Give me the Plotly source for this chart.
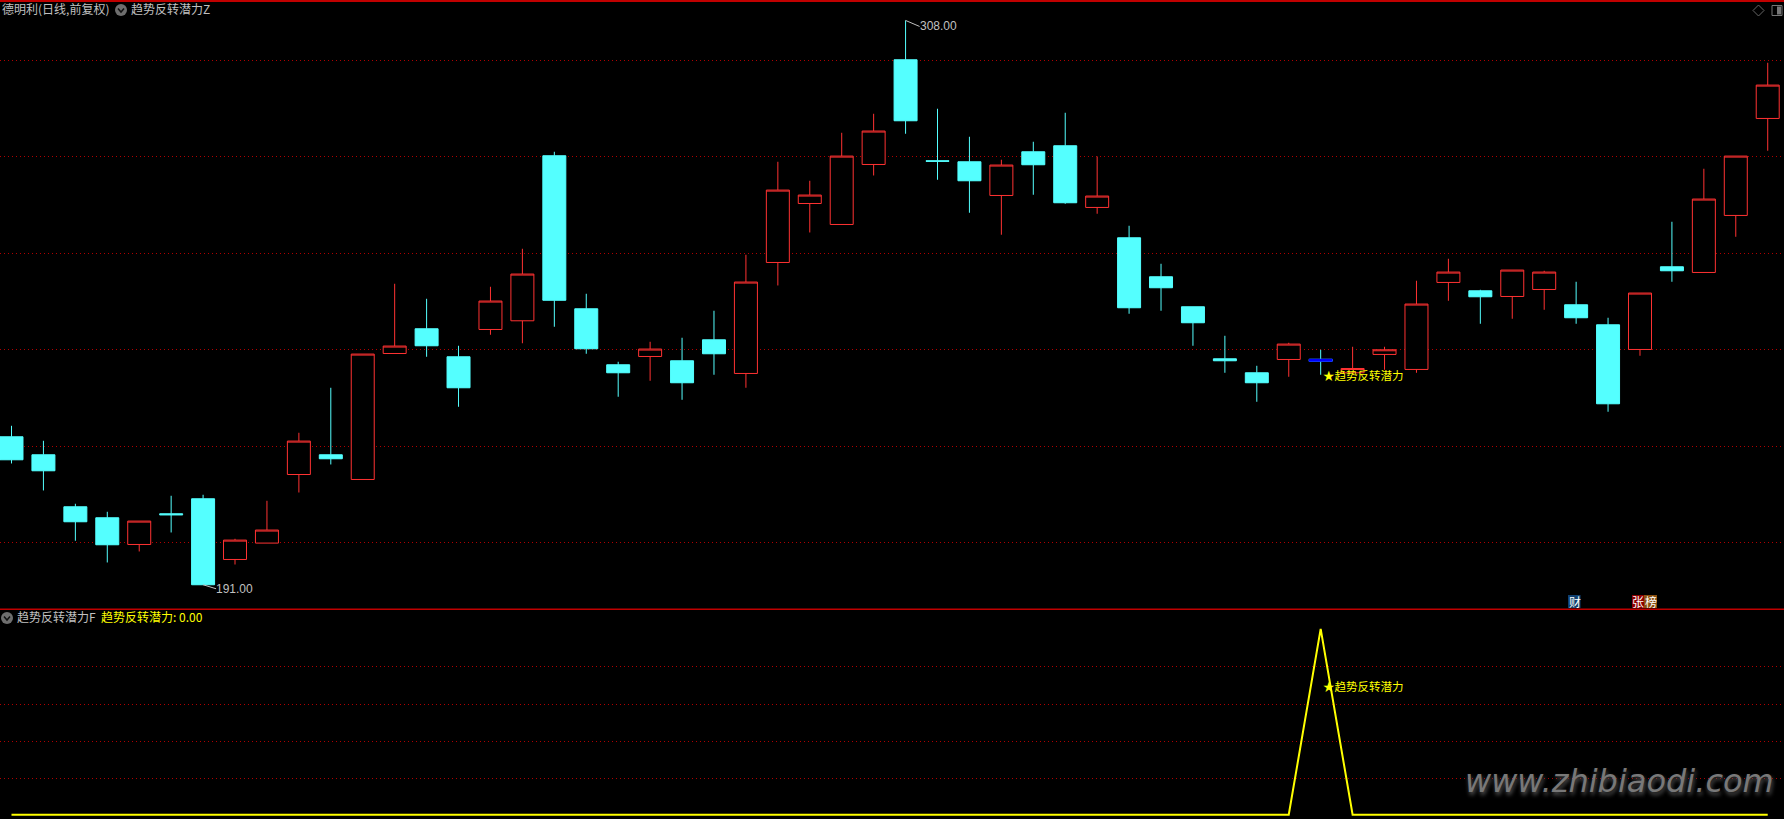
import plotly.graph_objects as go
from plotly.subplots import make_subplots

W, H = 1784, 819

# daily bars, left to right
opens = [221.68, 217.95, 207.17, 204.89, 199.35, 205.72, 208.83, 196.24, 199.64, 213.86, 217.95, 212.83, 238.95, 244.08,
         238.27, 243.93, 245.73, 279.95, 248.22, 236.61, 238.33, 237.44, 241.79, 234.81, 257.82, 270.05, 265.70, 278.14,
         299.85, 278.91, 278.70, 271.71, 280.77, 282.02, 269.23, 262.94, 254.86, 248.64, 237.85, 234.95, 237.71, 237.75,
         234.95, 238.75, 235.64, 253.68, 251.95, 250.77, 252.22, 249.05, 244.90, 239.78, 256.93, 255.75, 267.57, 287.68]
highs = [223.96, 220.85, 207.79, 206.13, 204.20, 209.45, 209.66, 200.53, 208.41, 222.51, 231.84, 238.83, 253.41, 250.29,
         240.55, 252.78, 260.66, 280.77, 251.33, 237.23, 241.38, 242.21, 247.81, 259.42, 278.70, 274.76, 284.71, 288.65,
         308.00, 289.69, 283.88, 279.12, 282.85, 288.86, 279.80, 265.43, 257.55, 248.64, 242.62, 236.40, 241.17, 239.72,
         240.34, 240.34, 254.03, 258.59, 252.16, 256.25, 256.10, 253.82, 246.36, 251.48, 266.26, 277.25, 279.88, 299.23]
lows = [216.15, 210.55, 200.12, 195.62, 197.90, 201.84, 191.00, 195.20, 199.64, 210.13, 215.94, 212.83, 238.95, 238.27,
        227.90, 242.83, 241.07, 244.49, 238.89, 229.98, 233.29, 229.35, 234.54, 231.84, 253.05, 264.04, 265.70, 275.86,
        284.51, 274.97, 268.13, 263.57, 271.86, 269.99, 267.92, 247.19, 247.81, 240.55, 234.95, 228.94, 234.12, 234.54,
        234.95, 235.57, 234.95, 249.88, 245.11, 246.15, 248.01, 245.11, 226.87, 238.48, 253.82, 255.75, 263.15, 280.98]
closes = [216.91, 214.63, 204.06, 199.29, 204.20, 205.51, 191.00, 200.26, 202.34, 220.79, 217.12, 238.83, 240.49, 240.55,
          231.84, 249.82, 255.42, 249.98, 239.93, 234.95, 239.87, 232.88, 238.89, 253.76, 272.83, 271.80, 279.88, 285.07,
          287.20, 278.80, 274.76, 278.02, 278.08, 270.20, 271.59, 248.43, 252.58, 245.32, 237.44, 232.88, 240.90, 237.34,
          235.84, 239.72, 249.20, 255.83, 250.71, 256.25, 255.83, 246.36, 228.52, 251.48, 256.10, 270.97, 279.88, 294.60]
days = list(range(len(opens)))

# indicator in the lower pane
signal = [0] * 41 + [100] + [0] * 14

price_grid = [299.70, 279.75, 259.78, 239.82, 219.70, 199.80]
signal_grid = [19.4, 39.6, 59.5, 79.6]
price_range = [185.87, 312.24]
signal_range = [-2.27, 110.4]
day_range = [-0.36, 55.51]

title_main = "德明利(日线,前复权)"
title_ind = "趋势反转潜力Z"
title_sub = "趋势反转潜力F"
sub_value = "趋势反转潜力: 0.00"
star_label = "★趋势反转潜力"
star_day = 41
high_day, low_day = 28, 6

CYAN = "#54FFFF"
RED = "#FF3232"
GRID = "#B00000"
GREY = "#C0C0C0"
YELLOW = "#FFFF00"
CJK = "Noto Sans CJK SC"


def px(x):
    return x / W


def py(y):
    return 1 - y / H


def label(x, y, text, color=GREY, size=12, family=CJK):
    return dict(xref="paper", yref="paper", x=px(x), y=py(y), text=text, showarrow=False,
                xanchor="left", yanchor="middle", borderpad=0, borderwidth=0,
                font=dict(color=color, size=size, family=family))


def rect(x0, y0, x1, y1, fill, line=None):
    return dict(type="rect", xref="paper", yref="paper", x0=px(x0), x1=px(x1), y0=py(y0), y1=py(y1),
                fillcolor=fill, line=dict(color=line or fill, width=1 if line else 0))


def toggle(cx, cy):
    # round grey button with a chevron
    return [
        dict(type="circle", xref="paper", yref="paper", x0=px(cx - 6), x1=px(cx + 6), y0=py(cy - 6), y1=py(cy + 6),
             fillcolor="#6E6E6E", line=dict(width=0)),
        dict(type="path", xref="paper", yref="paper", line=dict(color="#111111", width=1.5),
             path=f"M {px(cx - 3)} {py(cy - 1.5)} L {px(cx)} {py(cy + 2)} L {px(cx + 3)} {py(cy - 1.5)}"),
    ]


fig = make_subplots(rows=2, cols=1, shared_xaxes=False, vertical_spacing=0,
                    row_heights=[609.5 / H, 209.5 / H])

fig.add_trace(go.Candlestick(
    x=days, open=opens, high=highs, low=lows, close=closes,
    increasing=dict(line=dict(color=RED, width=1), fillcolor="#000000"),
    decreasing=dict(line=dict(color=CYAN, width=1), fillcolor=CYAN),
    whiskerwidth=0, showlegend=False), row=1, col=1)

# the signal day has a blue centre on its doji
fig.add_trace(go.Scatter(
    x=[star_day], y=[(opens[star_day] + closes[star_day]) / 2], mode="markers", showlegend=False,
    marker=dict(symbol="line-ew", size=17, line=dict(color="#0000FF", width=3))), row=1, col=1)

fig.add_trace(go.Scatter(x=days, y=signal, mode="lines", showlegend=False,
                         line=dict(color=YELLOW, width=2)), row=2, col=1)

annotations = [
    label(2, 8.5, title_main),
    label(131, 8.5, title_ind),
    label(17, 616.5, title_sub),
    label(101, 616.5, sub_value, YELLOW),
    label(1568.5, 601, "财", "#FFFFFF", 12),
    label(1632, 601, "张", "#FFFFFF", 12),
    label(1644.5, 601, "榜", "#FFFFFF", 12),
    label(1465, 781, "<i>www.zhibiaodi.com</i>", "#787878", 32, "DejaVu Sans"),
    dict(xref="x", yref="y", x=high_day, y=highs[high_day], text="308.00", ax=14, ay=6, axref="pixel", ayref="pixel",
         xanchor="left", yanchor="middle", showarrow=True, arrowhead=0, arrowwidth=1, arrowcolor=GREY,
         borderpad=0, borderwidth=0, font=dict(color=GREY, size=12, family="Liberation Sans")),
    dict(xref="x", yref="y", x=low_day, y=lows[low_day], text="191.00", ax=13, ay=4, axref="pixel", ayref="pixel",
         xanchor="left", yanchor="middle", showarrow=True, arrowhead=0, arrowwidth=1, arrowcolor=GREY,
         borderpad=0, borderwidth=0, font=dict(color=GREY, size=12, family="Liberation Sans")),
    dict(xref="x", yref="y", x=star_day, y=lows[star_day], text=star_label, showarrow=False, xanchor="left",
         yanchor="middle", xshift=2, borderpad=0, borderwidth=0, font=dict(color=YELLOW, size=11.5, family=CJK)),
    dict(xref="x2", yref="y2", x=star_day, y=69, text=star_label, showarrow=False, xanchor="left",
         yanchor="middle", xshift=2, borderpad=0, borderwidth=0, font=dict(color=YELLOW, size=11.5, family=CJK)),
]
annotations[7]["font"]["shadow"] = "1px 3px 4px #555555"

shapes = toggle(121, 10) + toggle(7, 618) + [
    # pane borders
    rect(0, 0, W, 2, "#C00000"),
    rect(0, 608.5, W, 610, "#C00000"),
    rect(1568, 595, 1580.5, 608, "#0F3F6F"),
    rect(1632, 595, 1644, 608, "#8B0000"),
    rect(1644, 595, 1657, 608, "#8B5010"),
    # corner buttons
    dict(type="path", xref="paper", yref="paper", line=dict(color="#666666", width=1),
         path=f"M {px(1758.5)} {py(5)} L {px(1764)} {py(10.5)} L {px(1758.5)} {py(16)} L {px(1753)} {py(10.5)} Z"),
    rect(1772, 5.5, 1782, 15.5, "#000000", "#777777"),
    rect(1777, 6.5, 1781, 14.5, "#777777"),
]

fig.update_layout(
    width=W, height=H, margin=dict(l=0, r=0, t=0, b=0),
    paper_bgcolor="#000000", plot_bgcolor="#000000", showlegend=False,
    annotations=annotations, shapes=shapes, dragmode=False,
    boxmode="overlay", boxgap=0.28, boxgroupgap=0,
)
fig.update_xaxes(range=day_range, showgrid=False, zeroline=False, showticklabels=False, ticks="", showline=False)
fig.update_xaxes(rangeslider_visible=False, row=1, col=1)
fig.update_yaxes(showline=False, zeroline=False, showticklabels=False, ticks="", showgrid=True,
                 gridcolor=GRID, gridwidth=1, griddash="1px,3px")
fig.update_yaxes(range=price_range, tickmode="array", tickvals=price_grid, row=1, col=1)
fig.update_yaxes(range=signal_range, tickmode="array", tickvals=signal_grid, row=2, col=1)

fig.write_html("out.html", config=dict(displayModeBar=False),
               post_script="document.body.style.margin='0';document.body.style.overflow='hidden';")
